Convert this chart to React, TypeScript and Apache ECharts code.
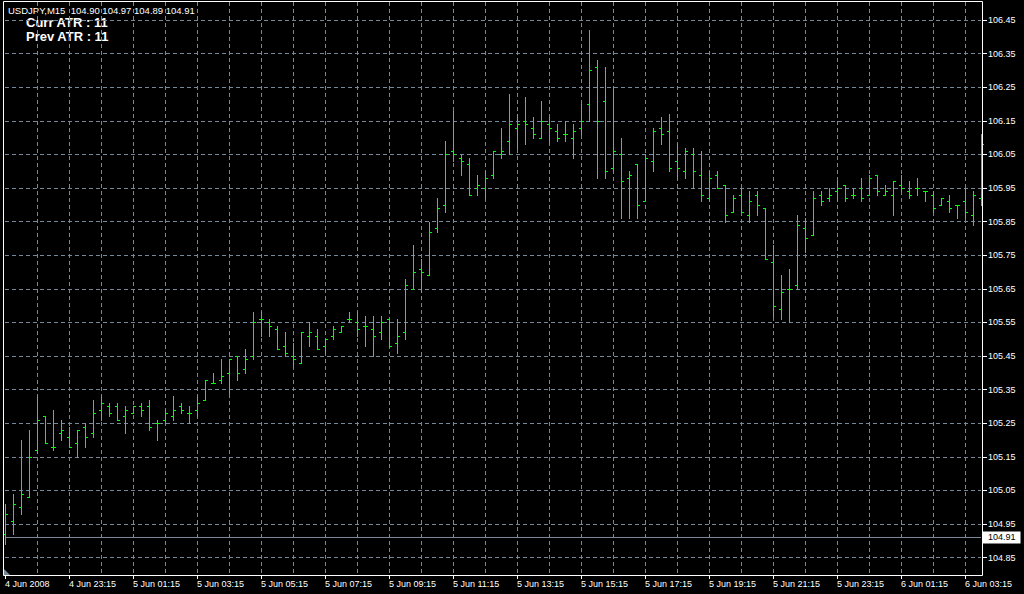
import React, { useEffect, useRef } from "react";
import * as echarts from "echarts";

const headerText = "USDJPY,M15  104.90 104.97 104.89 104.91";
const atrLines = ["Curr ATR : 11", "Prev ATR : 11"];
const firstTickLabel = "4 Jun 2008";
const bidPrice = 104.91;

const yTicks = [
  104.85, 104.95, 105.05, 105.15, 105.25, 105.35, 105.45, 105.55, 105.65,
  105.75, 105.85, 105.95, 106.05, 106.15, 106.25, 106.35, 106.45,
];

const opens = [
  104.92, 104.96, 105.0, 105.03, 105.17, 105.27, 105.18, 105.22, 105.21, 105.19,
  105.24, 105.22, 105.29, 105.3, 105.3, 105.27, 105.28, 105.3, 105.3, 105.25,
  105.26, 105.27, 105.3, 105.28, 105.29, 105.32, 105.37, 105.38, 105.4, 105.45,
  105.41, 105.45, 105.56, 105.55, 105.53, 105.48, 105.45, 105.43, 105.51, 105.51,
  105.48, 105.51, 105.52, 105.56, 105.55, 105.54, 105.53, 105.52, 105.56, 105.49,
  105.52, 105.65, 105.71, 105.69, 105.83, 105.9, 106.06, 106.04, 106.02, 105.95,
  105.95, 105.99, 106.05, 106.09, 106.13, 106.15, 106.13, 106.1, 106.14, 106.12,
  106.11, 106.1, 106.13, 106.2, 106.31, 106.21, 106.01, 106.05, 105.98, 106.02,
  105.91, 106.03, 106.13, 106.12, 106.03, 106.0, 106.05, 105.99, 105.92, 105.99,
  105.96, 105.88, 105.93, 105.87, 105.93, 105.89, 105.73, 105.59, 105.65, 105.66,
  105.83, 105.81, 105.93, 105.92, 105.94, 105.96, 105.93, 105.95, 105.93, 105.99,
  105.93, 105.93, 105.96, 105.94, 105.95, 105.94, 105.93, 105.9, 105.91, 105.9,
  105.91, 105.87, 105.92,
];
const highs = [
  105.01, 105.04, 105.2, 105.23, 105.33, 105.27, 105.29, 105.26, 105.24, 105.23,
  105.25, 105.32, 105.33, 105.31, 105.31, 105.3, 105.3, 105.31, 105.32, 105.26,
  105.29, 105.33, 105.31, 105.3, 105.33, 105.38, 105.4, 105.44, 105.44, 105.45,
  105.47, 105.58, 105.58, 105.56, 105.54, 105.52, 105.49, 105.52, 105.55, 105.53,
  105.5, 105.54, 105.54, 105.58, 105.58, 105.57, 105.57, 105.57, 105.56, 105.56,
  105.68, 105.78, 105.74, 105.85, 105.92, 106.09, 106.18, 106.05, 106.04, 105.99,
  106.0, 106.06, 106.13, 106.23, 106.17, 106.22, 106.16, 106.21, 106.16, 106.14,
  106.15, 106.14, 106.2, 106.42, 106.33, 106.31, 106.25, 106.1, 106.0, 106.02,
  106.05, 106.13, 106.16, 106.17, 106.08, 106.07, 106.07, 106.06, 106.0, 106.0,
  105.96, 105.93, 105.95, 105.94, 105.94, 105.89, 105.78, 105.69, 105.71, 105.87,
  105.86, 105.94, 105.94, 105.95, 105.97, 105.96, 105.95, 105.98, 105.99, 105.99,
  105.96, 105.97, 105.99, 105.97, 105.98, 105.94, 105.94, 105.92, 105.93, 105.9,
  105.95, 105.94, 106.11,
];
const lows = [
  104.89, 104.92, 104.98, 105.03, 105.16, 105.19, 105.17, 105.2, 105.18, 105.15,
  105.18, 105.21, 105.26, 105.27, 105.26, 105.22, 105.28, 105.27, 105.23, 105.2,
  105.25, 105.26, 105.28, 105.25, 105.27, 105.32, 105.37, 105.37, 105.34, 105.38,
  105.4, 105.44, 105.51, 105.51, 105.47, 105.45, 105.42, 105.43, 105.48, 105.47,
  105.46, 105.5, 105.52, 105.55, 105.51, 105.48, 105.45, 105.5, 105.48, 105.46,
  105.5, 105.65, 105.64, 105.69, 105.82, 105.88, 106.03, 105.99, 105.93, 105.93,
  105.92, 105.98, 106.04, 106.05, 106.07, 106.08, 106.1, 106.1, 106.09, 106.09,
  106.09, 106.04, 106.11, 106.15, 105.98, 105.98, 106.0, 105.86, 105.86, 105.86,
  105.91, 106.0, 106.08, 106.0, 105.98, 105.98, 105.95, 105.91, 105.91, 105.95,
  105.85, 105.88, 105.88, 105.85, 105.87, 105.74, 105.57, 105.56, 105.55, 105.65,
  105.76, 105.81, 105.9, 105.91, 105.91, 105.91, 105.92, 105.91, 105.93, 105.93,
  105.93, 105.87, 105.94, 105.92, 105.93, 105.91, 105.88, 105.9, 105.88, 105.86,
  105.86, 105.84, 105.9,
];
const closes = [
  104.98, 105.01, 105.04, 105.15, 105.26, 105.19, 105.18, 105.23, 105.18, 105.23,
  105.21, 105.28, 105.31, 105.28, 105.26, 105.29, 105.3, 105.29, 105.24, 105.25,
  105.28, 105.29, 105.29, 105.28, 105.31, 105.38, 105.37, 105.39, 105.44, 105.4,
  105.44, 105.55, 105.56, 105.54, 105.47, 105.46, 105.44, 105.52, 105.52, 105.47,
  105.5, 105.53, 105.54, 105.56, 105.53, 105.54, 105.51, 105.55, 105.48, 105.51,
  105.66, 105.7, 105.7, 105.82, 105.89, 106.05, 106.05, 106.03, 105.93, 105.96,
  105.98, 106.06, 106.06, 106.14, 106.14, 106.14, 106.11, 106.15, 106.13, 106.1,
  106.11, 106.12, 106.15, 106.3, 106.15, 106.0, 106.06, 105.97, 105.99, 105.9,
  106.04, 106.12, 106.11, 106.01, 106.01, 106.06, 106.0, 105.93, 105.98, 105.95,
  105.87, 105.92, 105.88, 105.91, 105.9, 105.74, 105.6, 105.64, 105.65, 105.84,
  105.8, 105.92, 105.91, 105.93, 105.95, 105.92, 105.93, 105.92, 105.98, 105.94,
  105.94, 105.97, 105.95, 105.93, 105.95, 105.94, 105.89, 105.92, 105.89, 105.9,
  105.88, 105.93, 106.08,
];

// bar times: 15-minute bars starting 4 Jun 21:15
function buildTimes(count: number): string[] {
  const out: string[] = [];
  let day = 4;
  let h = 21;
  let m = 15;
  for (let k = 0; k < count; k++) {
    out.push(`${day} Jun ${String(h).padStart(2, "0")}:${String(m).padStart(2, "0")}`);
    m += 15;
    if (m === 60) {
      m = 0;
      h += 1;
      if (h === 24) {
        h = 0;
        day += 1;
      }
    }
  }
  return out;
}

const FONT = "'Liberation Sans', Arial, sans-serif";
const GRID_COLOR = "#778899";
const BAR_COLOR = "#00ff00";

export default function App() {
  const ref = useRef<HTMLDivElement>(null);

  useEffect(() => {
    if (!ref.current) return;
    const chart = echarts.init(ref.current, undefined, { renderer: "svg" });
    const times = buildTimes(opens.length);
    const data = opens.map((o, i) => [i, o, highs[i], lows[i], closes[i]]);

    const option: any = {
      animation: false,
      backgroundColor: "#000000",
      grid: { left: 5, right: 43, top: 2, bottom: 19, containLabel: false },
      xAxis: {
        type: "category",
        data: times,
        boundaryGap: false,
        axisLine: { show: false },
        axisTick: {
          show: true,
          interval: (i: number) => i % 8 === 0,
          length: 4,
          lineStyle: { color: "#ffffff" },
        },
        axisLabel: {
          interval: (i: number) => i % 8 === 0,
          formatter: (v: string, i: number) => (i === 0 ? firstTickLabel : v),
          align: "left",
          color: "#ffffff",
          fontSize: 9,
          fontFamily: FONT,
          margin: 4,
        },
        splitLine: {
          show: true,
          interval: (i: number) => i > 0 && i % 4 === 0,
          lineStyle: { color: GRID_COLOR, type: [4, 3], width: 1 },
        },
      },
      yAxis: {
        type: "value",
        position: "right",
        min: 104.7982,
        max: 106.5036,
        offset: 2,
        axisLine: { show: false },
        axisTick: {
          show: true,
          customValues: yTicks,
          length: 4,
          lineStyle: { color: "#ffffff" },
        },
        axisLabel: {
          customValues: yTicks,
          formatter: (v: number) => v.toFixed(2),
          color: "#ffffff",
          fontSize: 9,
          fontFamily: FONT,
          margin: 5,
        },
        splitLine: {
          show: true,
          lineStyle: { color: GRID_COLOR, type: [4, 3], width: 1 },
        },
      },
      graphic: [
        {
          type: "rect",
          shape: { x: 3.5, y: 1.5, width: 979, height: 574 },
          style: { fill: "none", stroke: "#ffffff", lineWidth: 1 },
          z: 50,
          silent: true,
        },
        {
          type: "polygon",
          shape: { points: [[4, 569], [4, 575], [10, 575]] },
          style: { fill: GRID_COLOR },
          silent: true,
        },
        {
          type: "text",
          x: 8,
          y: 5,
          style: { text: headerText, fill: "#ffffff", font: `9.5px ${FONT}` },
          silent: true,
        },
        {
          type: "text",
          x: 26,
          y: 16,
          style: { text: atrLines[0], fill: "#ffffff", font: `bold 13px ${FONT}` },
          silent: true,
        },
        {
          type: "text",
          x: 26,
          y: 30,
          style: { text: atrLines[1], fill: "#ffffff", font: `bold 13px ${FONT}` },
          silent: true,
        },
      ],
      series: [
        {
          type: "custom",
          name: "USDJPY",
          data,
          encode: { x: 0, y: [1, 2, 3, 4] },
          renderItem: (params: any, api: any) => {
            const i = api.value(0);
            const pO = api.coord([i, api.value(1)]);
            const pH = api.coord([i, api.value(2)]);
            const pL = api.coord([i, api.value(3)]);
            const pC = api.coord([i, api.value(4)]);
            const bx = Math.round(pH[0]);
            const x = bx + 0.5;
            const yH = Math.round(pH[1]);
            const yL = Math.round(pL[1]) + 1;
            const yO = Math.round(pO[1]) + 0.5;
            const yC = Math.round(pC[1]) + 0.5;
            const style = { stroke: BAR_COLOR, lineWidth: 1 };
            return {
              type: "group",
              children: [
                { type: "line", shape: { x1: x, y1: yH, x2: x, y2: yL }, style },
                { type: "line", shape: { x1: bx - 2, y1: yO, x2: bx, y2: yO }, style },
                { type: "line", shape: { x1: bx + 1, y1: yC, x2: bx + 3, y2: yC }, style },
              ],
            };
          },
          markLine: {
            silent: true,
            symbol: "none",
            lineStyle: { color: GRID_COLOR, type: "solid", width: 1 },
            label: {
              show: true,
              position: "end",
              formatter: bidPrice.toFixed(2),
              backgroundColor: "#ffffff",
              color: "#000000",
              padding: [2, 5, 1, 5],
              fontSize: 9,
              fontFamily: FONT,
              distance: 2,
            },
            data: [{ yAxis: bidPrice }],
          },
          z: 10,
        },
      ],
    };

    chart.setOption(option);
    return () => chart.dispose();
  }, []);

  return (
    <div
      ref={ref}
      style={{ position: "fixed", left: 0, top: 0, width: 1024, height: 594, background: "#000" }}
    />
  );
}
